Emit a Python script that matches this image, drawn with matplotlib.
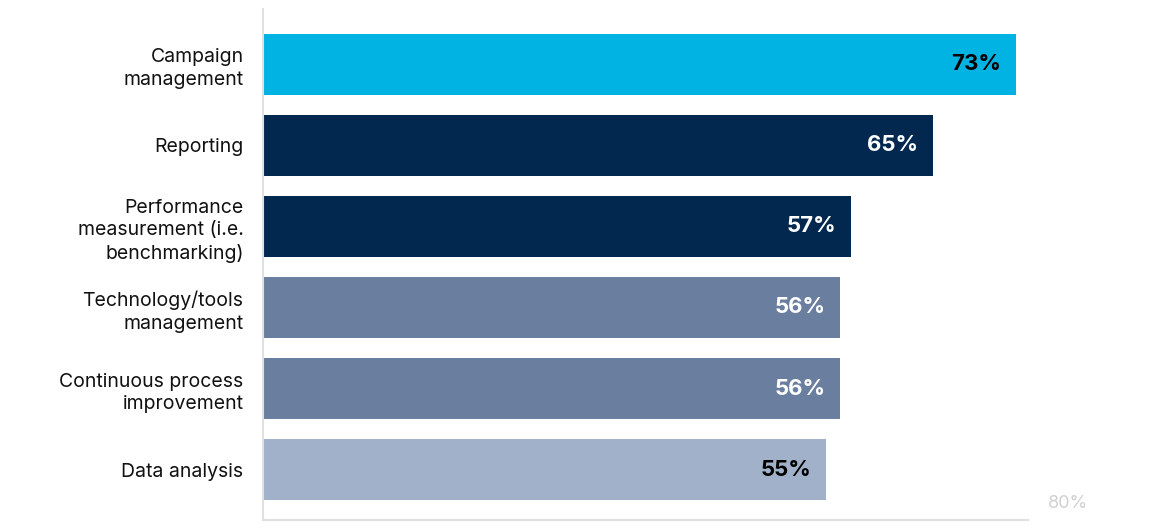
import matplotlib.pyplot as plt

# data
categories = ["Campaign\nmanagement", "Reporting", "Performance\nmeasurement (i.e.\nbenchmarking)",
              "Technology/tools\nmanagement", "Continuous process\nimprovement", "Data analysis"]
values = [73, 65, 57, 56, 56, 54.6]
bar_colors = ["#00B3E3", "#03284F", "#03284F", "#6A7FA0", "#6A7FA0", "#A0B1C9"]
label_colors = ["black", "white", "white", "white", "white", "black"]

plt.rcParams['font.family'] = ['Inter', 'DejaVu Sans']

fig = plt.figure(figsize=(11.52, 5.32), dpi=100)
ax = fig.add_axes([0.2283, 0.0226, 0.7161, 0.9605])

pos = list(range(len(values)))
ax.barh(pos, values, height=0.75, color=bar_colors)

for p, v, c in zip(pos, values, label_colors):
    ax.annotate(f"{round(v)}%", xy=(v, p), xytext=(-15, 0), textcoords='offset pixels',
                ha='right', va='center', fontsize=16, fontweight='bold', color=c)

ax.set_xlim(0, 80)
ax.set_ylim(5.62, -0.68)
ax.set_yticks(pos)
ax.set_yticklabels(categories, fontsize=14, color='#111111', linespacing=1.32)
ax.tick_params(axis='y', length=0, pad=14)
ax.set_xticks([])

for s in ['top', 'right']:
    ax.spines[s].set_visible(False)
ax.spines['left'].set_color('#E0E0E0')
ax.spines['bottom'].set_color('#E0E0E0')
ax.spines['left'].set_linewidth(1.5)
ax.spines['bottom'].set_linewidth(1.5)
ax.spines['bottom'].set_bounds(0, 74.2)

ax.text(80, 5.42, "80%", ha='right', va='center', fontsize=13, color='#D0D0D0')

fig.savefig("out.png", dpi=100)
